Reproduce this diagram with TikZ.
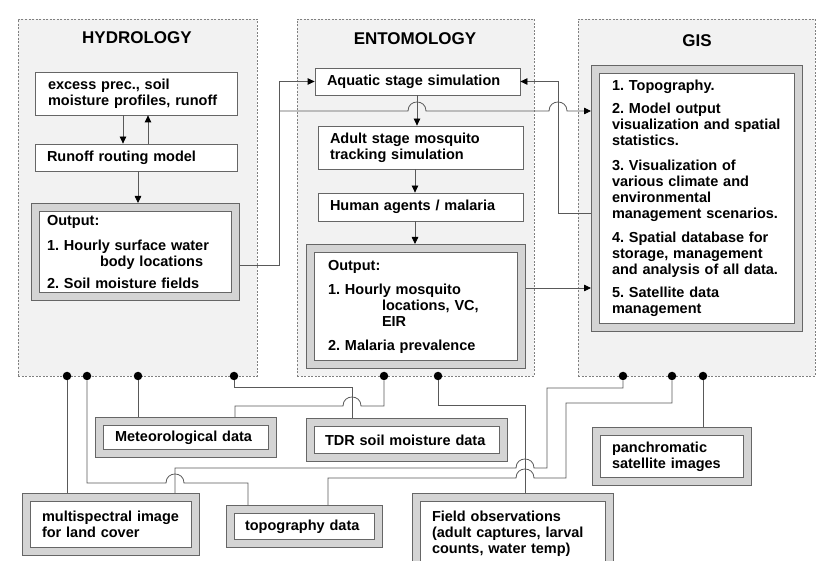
\documentclass[tikz,border=0pt]{standalone}
\usepackage{fontspec}
\setmainfont{Liberation Sans}
\usetikzlibrary{arrows.meta}

\tikzset{
  panel/.style={draw=black!50, dash pattern=on 2pt off 1.5pt, fill=black!5, inner sep=0pt},
  head/.style={font=\fontsize{17}{20}\selectfont\bfseries},
  simplebox/.style={draw=black!60, line width=.8pt, fill=white, align=left, inner sep=0pt,
    font=\fontsize{14.5}{16}\selectfont\bfseries\frenchspacing},
  outbox/.style={draw=black!60, double=black!17, double distance=7.5pt, line width=.7pt,
    fill=white, align=left, inner sep=0pt, outer sep=4.45pt,
    font=\fontsize{14.5}{16}\selectfont\bfseries\frenchspacing},
  link/.style={draw=black!65, line width=.8pt},
  arr/.style={link, -{Triangle[length=7pt,width=6.5pt,black]}},
  dot/.style={circle, fill=black, inner sep=0pt, minimum size=8.5pt},
}

\begin{document}
\begin{tikzpicture}[x=1pt, y=-1pt]
  \path[use as bounding box, fill=white] (0,0) rectangle (817,561);

  % the three groups
  \node[panel, minimum width=239pt, minimum height=357pt] (hydro) at (137.5,197.5) {};
  \node[panel, minimum width=237pt, minimum height=357pt] (ento) at (415.5,197.5) {};
  \node[panel, minimum width=237pt, minimum height=357pt] (gis) at (696.5,197.5) {};
  \node[head] (hydrohead) at (137,38) {HYDROLOGY};
  \node[head] (entohead) at (415,39) {ENTOMOLOGY};
  \node[head] (gishead) at (697,41) {GIS};

  % hydrology
  \node[simplebox, minimum width=202pt, minimum height=43pt, text width=176pt] (excess) at (136,93.5)
    {excess prec., soil\\moisture profiles, runoff};
  \node[simplebox, minimum width=202pt, minimum height=27pt, text width=178pt] (runoff) at (136,157.5)
    {Runoff routing model};
  \node[outbox, minimum width=200.1pt, minimum height=89.1pt, text width=177pt] (hydroout) at (135.5,252)
    {Output:\\[9pt]1. Hourly surface water\\\hspace*{53pt}body locations\\[6pt]2. Soil moisture fields};

  % entomology
  \node[simplebox, minimum width=205pt, minimum height=27pt, text width=181pt] (aquatic) at (417.5,81.5)
    {Aquatic stage simulation};
  \node[simplebox, minimum width=205pt, minimum height=43pt, text width=181pt] (adult) at (420.5,147.5)
    {Adult stage mosquito\\tracking simulation};
  \node[simplebox, minimum width=205pt, minimum height=28pt, text width=181pt] (human) at (420.5,207)
    {Human agents / malaria};
  \node[outbox, minimum width=211.1pt, minimum height=116.1pt, text width=176pt] (entoout) at (416,306.5)
    {Output:\\[8pt]1. Hourly mosquito\\\hspace*{54pt}locations, VC,\\\hspace*{54pt}EIR\\[8pt]2. Malaria prevalence};

  % gis
  \node[outbox, minimum width=203.1pt, minimum height=258.1pt, text width=170pt] (gisout) at (697,198.5)
    {1. Topography.\\[7pt]2. Model output\\visualization and spatial\\statistics.\\[9pt]3. Visualization of\\various climate and\\environmental\\management scenarios.\\[8pt]4. Spatial database for\\storage, management\\and analysis of all data.\\[7pt]5. Satellite data\\management};

  % data sources
  \node[outbox, minimum width=173.1pt, minimum height=32.1pt, text width=142pt] (meteo) at (186,437.5)
    {Meteorological data};
  \node[outbox, minimum width=193.1pt, minimum height=35.1pt, text width=164pt] (tdr) at (407,440)
    {TDR soil moisture data};
  \node[outbox, minimum width=151.1pt, minimum height=50.1pt, text width=120pt] (panchro) at (672,456.5)
    {panchromatic\\satellite images};
  \node[outbox, minimum width=169.1pt, minimum height=54.1pt, text width=138pt] (multispec) at (111,524.5)
    {multispectral image\\for land cover};
  \node[outbox, minimum width=148.1pt, minimum height=34.1pt, text width=119pt] (topo) at (304.5,526.5)
    {topography data};
  \node[outbox, minimum width=193.1pt, minimum height=73.1pt, text width=162pt] (fieldobs) at (513,534)
    {Field observations\\(adult captures, larval\\counts, water temp)};

  % plugs on the group borders
  \node[dot] (hd1) at (67,376) {};
  \node[dot] (hd2) at (87,376) {};
  \node[dot] (hd3) at (138,376) {};
  \node[dot] (hd4) at (234,376) {};
  \node[dot] (ed1) at (384,376) {};
  \node[dot] (ed2) at (438,376) {};
  \node[dot] (gd1) at (623,376) {};
  \node[dot] (gd2) at (672,376) {};
  \node[dot] (gd3) at (703,376) {};

  % flows inside the groups
  \draw[arr] (excess.south -| 123,0) -- (runoff.north -| 123,0);
  \draw[arr] (runoff.north -| 148,0) -- (excess.south -| 148,0);
  \draw[arr] (runoff.south -| 138,0) -- (hydroout.north -| 138,0);
  \draw[arr] (aquatic.south -| 417,0) -- (adult.north -| 417,0);
  \draw[arr] (adult.south -| 415,0) -- (human.north -| 415,0);
  \draw[arr] (human.south -| 415,0) -- (entoout.north -| 415,0);

  % flows between the groups
  \coordinate (split) at (279,111);
  \draw[arr] (hydroout.east |- 0,265) -| (aquatic.west -| 279,0) -- (aquatic.west);
  \draw[arr] (split) -- (408,111) .. controls (408,99) and (426,99) .. (426,111)
    -- (549,111) .. controls (549,99) and (567,99) .. (567,111) -- (gisout.west |- split);
  \draw[arr] (gisout.west |- 0,213) -| (aquatic.east -| 558,0) -- (aquatic.east);
  \draw[arr] (entoout.east |- 0,288) -- (gisout.west |- 0,288);

  % data links
  \draw[link] (hd1) -- (multispec.north -| hd1);
  \draw[link] (hd2) |- (166,483) .. controls (166,471) and (184,471) .. (184,483) -| (topo.north -| 248,0);
  \draw[link] (hd3) -- (meteo.north -| hd3);
  \draw[link] (hd4) |- (352,387) -- (tdr.north -| 352,0);
  \draw[link] (meteo.north -| 235,0) |- (343,406) .. controls (343,394) and (361,394) .. (361,406) -| (ed1);
  \draw[link] (ed2) |- (525,405) -- (fieldobs.north -| 525,0);
  \draw[link] (gd1) |- (547,388) |- (534,468) .. controls (534,456) and (516,456) .. (516,468)
    -| (multispec.north -| 175,0);
  \draw[link] (gd2) |- (566,403) |- (534,478) .. controls (534,466) and (516,466) .. (516,478)
    -| (topo.north -| 328,0);
  \draw[link] (gd3) -- (panchro.north -| gd3);
\end{tikzpicture}
\end{document}
